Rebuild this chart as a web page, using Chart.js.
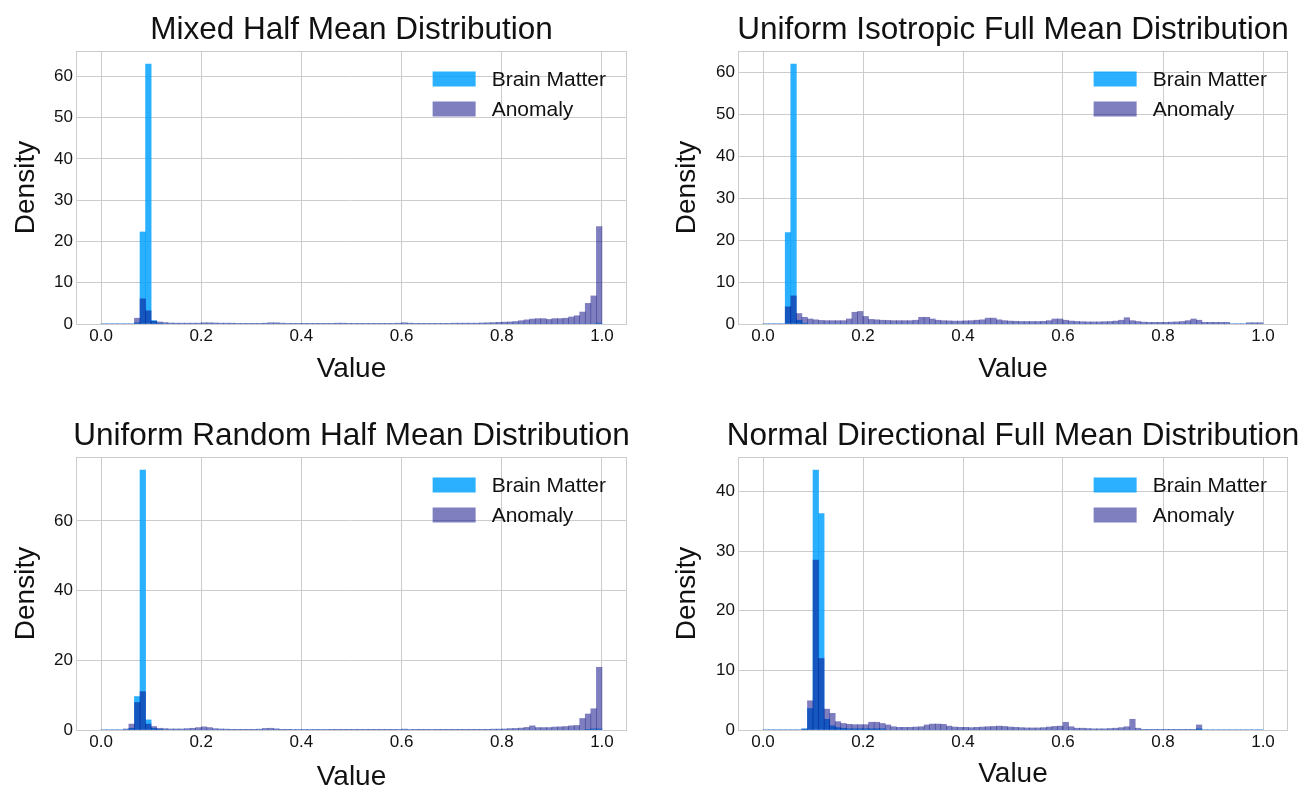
<!DOCTYPE html>
<html>
<head>
<meta charset="utf-8">
<script src="https://cdn.jsdelivr.net/npm/chart.js@4.4.1/dist/chart.umd.min.js"></script>
<style>
	html, body { margin: 0; padding: 0; background: #fff; overflow: hidden; }
	.panel { position: absolute; }
</style>
</head>
<body>
<div class="panel" style="left:0;top:0;"><canvas id="mixedChart" width="651" height="393"></canvas></div>
<div class="panel" style="left:651px;top:0;"><canvas id="isoChart" width="651" height="393"></canvas></div>
<div class="panel" style="left:0;top:393px;"><canvas id="randChart" width="651" height="400"></canvas></div>
<div class="panel" style="left:651px;top:393px;"><canvas id="normChart" width="651" height="400"></canvas></div>
<script>
// 90 equal bins on [0, 1]
const binCount = 90;
const binCenters = [];
for (let k = 0; k < binCount; k++) binCenters.push((k + 0.5) / binCount);

const xTicks = [0.0, 0.2, 0.4, 0.6, 0.8, 1.0];

// ---------- Mixed Half Mean ----------
const mixedBrain = [
	0, 0, 0, 0, 0, 0, 0.3, 22.3, 63.0, 0.8,
	0.1, 0, 0, 0, 0, 0, 0, 0, 0, 0,
	0, 0, 0, 0, 0, 0, 0, 0, 0, 0,
	0, 0, 0, 0, 0, 0, 0, 0, 0, 0,
	0, 0, 0, 0, 0, 0, 0, 0, 0, 0,
	0, 0, 0, 0, 0, 0, 0, 0, 0, 0,
	0, 0, 0, 0, 0, 0, 0, 0, 0, 0,
	0, 0, 0, 0, 0, 0, 0, 0, 0, 0,
	0, 0, 0, 0, 0, 0, 0, 0, 0, 0.2
];
const mixedAnomaly = [
	0, 0, 0, 0, 0, 0, 1.4, 6.1, 3.2, 0.7,
	0.5, 0.35, 0.25, 0.2, 0.2, 0.2, 0.2, 0.2, 0.3, 0.3,
	0.25, 0.2, 0.2, 0.2, 0.15, 0.15, 0.15, 0.15, 0.15, 0.2,
	0.3, 0.3, 0.2, 0.15, 0.15, 0.15, 0.15, 0.1, 0.15, 0.15,
	0.15, 0.15, 0.2, 0.2, 0.15, 0.15, 0.15, 0.15, 0.15, 0.15,
	0.15, 0.15, 0.15, 0.2, 0.3, 0.2, 0.15, 0.15, 0.15, 0.15,
	0.15, 0.15, 0.15, 0.2, 0.2, 0.2, 0.2, 0.2, 0.25, 0.3,
	0.35, 0.4, 0.45, 0.5, 0.6, 0.8, 1.0, 1.2, 1.3, 1.3,
	1.1, 1.3, 1.3, 1.4, 1.7, 2.0, 2.9, 5.0, 6.8, 23.6
];
const mixedYTicks = [0, 10, 20, 30, 40, 50, 60];

// ---------- Uniform Isotropic Full Mean ----------
const isoBrain = [
	0, 0, 0, 0, 21.8, 62.0, 0.9, 0.2, 0, 0,
	0, 0, 0, 0, 0, 0, 0, 0, 0, 0,
	0, 0, 0, 0, 0, 0, 0, 0, 0, 0,
	0, 0, 0, 0, 0, 0, 0, 0, 0, 0,
	0, 0, 0, 0, 0, 0, 0, 0, 0, 0,
	0, 0, 0, 0, 0, 0, 0, 0, 0, 0,
	0, 0, 0, 0, 0, 0, 0, 0, 0, 0,
	0, 0, 0, 0, 0, 0, 0, 0, 0, 0,
	0, 0, 0, 0, 0, 0, 0, 0, 0, 0
];
const isoAnomaly = [
	0, 0, 0, 0, 4.1, 6.7, 2.5, 1.6, 1.2, 1.0,
	0.85, 0.8, 0.8, 0.8, 0.8, 1.2, 2.8, 3.0, 1.8, 1.1,
	1.0, 0.9, 0.85, 0.8, 0.8, 0.8, 0.8, 0.9, 1.6, 1.6,
	1.2, 0.9, 0.8, 0.75, 0.7, 0.7, 0.75, 0.8, 0.9, 1.0,
	1.4, 1.4, 1.0, 0.8, 0.7, 0.65, 0.6, 0.6, 0.6, 0.6,
	0.65, 0.8, 1.2, 1.2, 0.9, 0.7, 0.6, 0.55, 0.5, 0.5,
	0.5, 0.55, 0.6, 0.7, 0.9, 1.5, 0.8, 0.6, 0.45, 0.4,
	0.4, 0.4, 0.4, 0.45, 0.5, 0.6, 0.8, 1.2, 0.9, 0.4,
	0.4, 0.4, 0.4, 0.4, 0, 0, 0, 0.3, 0.3, 0.3
];
const isoYTicks = [0, 10, 20, 30, 40, 50, 60];

// ---------- Uniform Random Half Mean ----------
const randBrain = [
	0, 0, 0, 0, 0, 0.5, 9.6, 74.6, 2.9, 0.5,
	0.2, 0, 0, 0, 0, 0, 0, 0, 0, 0,
	0, 0, 0, 0, 0, 0, 0, 0, 0, 0,
	0, 0, 0, 0, 0, 0, 0, 0, 0, 0,
	0, 0, 0, 0, 0, 0, 0, 0, 0, 0,
	0, 0, 0, 0, 0, 0, 0, 0, 0, 0,
	0, 0, 0, 0, 0, 0, 0, 0, 0, 0,
	0, 0, 0, 0, 0, 0, 0, 0, 0, 0,
	0, 0, 0, 0, 0, 0, 0, 0.2, 0.3, 0.3
];
const randAnomaly = [
	0, 0, 0, 0, 0.3, 1.7, 7.9, 11.0, 1.7, 1.0,
	0.5, 0.4, 0.3, 0.3, 0.3, 0.4, 0.5, 0.7, 0.9, 0.7,
	0.4, 0.3, 0.25, 0.2, 0.2, 0.2, 0.2, 0.2, 0.25, 0.45,
	0.5, 0.35, 0.2, 0.2, 0.15, 0.15, 0.15, 0.15, 0.15, 0.15,
	0.15, 0.1, 0.1, 0.1, 0.1, 0.1, 0.1, 0.1, 0.1, 0.1,
	0.1, 0.1, 0.1, 0.15, 0.25, 0.15, 0.1, 0.1, 0.1, 0.15,
	0.2, 0.2, 0.2, 0.2, 0.2, 0.2, 0.2, 0.2, 0.2, 0.2,
	0.25, 0.25, 0.3, 0.4, 0.45, 0.55, 0.75, 1.2, 0.7, 0.7,
	0.7, 0.85, 0.9, 1.0, 1.2, 1.3, 3.3, 4.6, 6.1, 18.0
];
const randYTicks = [0, 20, 40, 60];

// ---------- Normal Directional Full Mean ----------
const normBrain = [
	0, 0, 0, 0, 0, 0, 0, 0.2, 3.6, 43.6,
	36.3, 1.8, 0.7, 0.4, 0.3, 0.2, 0.2, 0.2, 0.2, 0.2,
	0.2, 0.2, 0, 0, 0, 0, 0, 0, 0, 0,
	0, 0, 0, 0, 0, 0, 0, 0, 0, 0,
	0, 0, 0, 0, 0, 0, 0, 0, 0, 0,
	0, 0, 0, 0, 0, 0, 0, 0, 0, 0,
	0, 0, 0, 0, 0, 0, 0, 0, 0, 0,
	0, 0, 0, 0, 0, 0, 0, 0, 0.2, 0,
	0, 0, 0, 0, 0, 0, 0, 0, 0, 0
];
const normAnomaly = [
	0, 0, 0, 0, 0, 0, 0, 0.15, 4.9, 28.5,
	12.0, 3.5, 2.8, 1.4, 1.1, 0.95, 0.9, 0.9, 0.9, 1.3,
	1.3, 1.1, 0.85, 0.55, 0.45, 0.45, 0.45, 0.5, 0.55, 0.85,
	1.0, 1.0, 0.95, 0.65, 0.5, 0.45, 0.45, 0.4, 0.45, 0.5,
	0.55, 0.6, 0.65, 0.6, 0.5, 0.45, 0.4, 0.35, 0.35, 0.35,
	0.4, 0.5, 0.6, 0.65, 1.3, 0.55, 0.3, 0.3, 0.25, 0.2,
	0.2, 0.2, 0.25, 0.3, 0.4, 0.55, 1.8, 0.3, 0.1, 0.1,
	0.1, 0.1, 0.1, 0.1, 0.1, 0.1, 0.1, 0.1, 0.85, 0,
	0, 0, 0, 0, 0, 0, 0, 0, 0, 0
];
const normYTicks = [0, 10, 20, 30, 40];

const seriesLabels = ['Brain Matter', 'Anomaly'];

const brainColor = 'rgba(0, 160, 255, 0.83)';
const anomalyColor = 'rgba(0, 0, 128, 0.5)';
const gridColor = '#cccccc';
const fontFamily = '"Liberation Sans", Arial, sans-serif';

Chart.defaults.font.family = fontFamily;
Chart.defaults.color = '#111';

// light grey box around the plot area (like matplotlib spines)
const framePlugin = {
	id: 'frame',
	afterDatasetsDraw(chart) {
		const a = chart.chartArea;
		const ctx = chart.ctx;
		ctx.save();
		ctx.strokeStyle = gridColor;
		ctx.lineWidth = 1;
		ctx.strokeRect(Math.round(a.left) + 0.5, Math.round(a.top) + 0.5,
			Math.round(a.right - a.left) - 1, Math.round(a.bottom - a.top));
		ctx.restore();
	}
};

// title centred over the plot area, not squeezed to its width
const axesTitle = {
	id: 'axesTitle',
	afterDraw(chart, args, opts) {
		const a = chart.chartArea;
		const ctx = chart.ctx;
		ctx.save();
		ctx.font = '31.5px ' + fontFamily;
		ctx.fillStyle = '#111';
		ctx.textAlign = 'center';
		ctx.textBaseline = 'middle';
		ctx.fillText(opts.text, (a.left + a.right) / 2, opts.y);
		ctx.restore();
	}
};

// legend drawn inside the plot, upper right, no frame
const insideLegend = {
	id: 'insideLegend',
	afterDraw(chart) {
		const a = chart.chartArea;
		const ctx = chart.ctx;
		ctx.save();
		ctx.font = '21px ' + fontFamily;
		const sets = chart.data.datasets;
		let textW = 0;
		sets.forEach(function (d) { textW = Math.max(textW, ctx.measureText(d.label).width); });
		const textX = a.right - 21 - textW;
		sets.forEach(function (d, i) {
			const cy = a.top + 29 + i * 30;
			ctx.fillStyle = d.backgroundColor;
			ctx.fillRect(textX - 16 - 43, cy - 8.5, 43, 15);
			ctx.fillStyle = '#111';
			ctx.textBaseline = 'middle';
			ctx.textAlign = 'left';
			ctx.fillText(d.label, textX, cy);
		});
		ctx.restore();
	}
};

function toPoints(values) {
	return values.map(function (v, k) { return { x: binCenters[k], y: v }; });
}

function makeHist(id, o) {
	const yMax = Math.max(Math.max.apply(null, o.brain), Math.max.apply(null, o.anomaly)) * 1.05;
	return new Chart(document.getElementById(id), {
		type: 'bar',
		data: {
			datasets: [{
				label: seriesLabels[0],
				data: toPoints(o.brain),
				backgroundColor: brainColor,
				borderWidth: 0,
				grouped: false,
				barPercentage: 1,
				categoryPercentage: 1,
				order: 1 // drawn first, underneath
			}, {
				label: seriesLabels[1],
				data: toPoints(o.anomaly),
				backgroundColor: anomalyColor,
				borderWidth: 0,
				grouped: false,
				barPercentage: 1,
				categoryPercentage: 1,
				order: 0
			}]
		},
		options: {
			responsive: false,
			animation: false,
			devicePixelRatio: 1,
			layout: {
				padding: { left: 0, right: o.padRight, top: o.plotTop, bottom: 0 }
			},
			scales: {
				x: {
					type: 'linear',
					min: -0.05,
					max: 1.05,
					offset: false,
					afterFit: function (s) { s.height = o.xHeight; },
					afterBuildTicks: function (s) { s.ticks = xTicks.map(function (v) { return { value: v }; }); },
					border: { display: false },
					grid: { color: gridColor, offset: false, drawTicks: false },
					ticks: {
						font: { size: 17 },
						color: '#111',
						padding: 2,
						maxRotation: 0,
						autoSkip: false,
						callback: function (v) { return v.toFixed(1); }
					},
					title: {
						display: true,
						text: 'Value',
						font: { size: 28, lineHeight: 1.0 },
						color: '#111',
						padding: { top: 0, bottom: o.xTitlePad }
					}
				},
				y: {
					min: 0,
					max: yMax,
					afterFit: function (s) { s.width = o.yWidth; },
					afterBuildTicks: function (s) { s.ticks = o.yTicks.map(function (v) { return { value: v }; }); },
					border: { display: false },
					grid: { color: gridColor, drawTicks: false },
					ticks: {
						font: { size: 17 },
						color: '#111',
						padding: 3
					},
					title: {
						display: true,
						text: 'Density',
						font: { size: 28 },
						color: '#111',
						padding: { top: o.yTitlePad, bottom: 0 }
					}
				}
			},
			plugins: {
				legend: { display: false },
				tooltip: { enabled: false },
				title: { display: false },
				axesTitle: { text: o.title, y: o.titleY }
			}
		},
		plugins: [framePlugin, axesTitle, insideLegend]
	});
}

makeHist('mixedChart', {
	title: 'Mixed Half Mean Distribution',
	brain: mixedBrain, anomaly: mixedAnomaly, yTicks: mixedYTicks,
	yWidth: 76, padRight: 24, xHeight: 69, plotTop: 51,
	titleY: 29.9, xTitlePad: 9.8, yTitlePad: 9
});
makeHist('isoChart', {
	title: 'Uniform Isotropic Full Mean Distribution',
	brain: isoBrain, anomaly: isoAnomaly, yTicks: isoYTicks,
	yWidth: 87, padRight: 14, xHeight: 69, plotTop: 51,
	titleY: 29.9, xTitlePad: 9.8, yTitlePad: 19
});
makeHist('randChart', {
	title: 'Uniform Random Half Mean Distribution',
	brain: randBrain, anomaly: randAnomaly, yTicks: randYTicks,
	yWidth: 76, padRight: 24, xHeight: 63, plotTop: 64,
	titleY: 42.9, xTitlePad: 1.8, yTitlePad: 9
});
makeHist('normChart', {
	title: 'Normal Directional Full Mean Distribution',
	brain: normBrain, anomaly: normAnomaly, yTicks: normYTicks,
	yWidth: 87, padRight: 14, xHeight: 63, plotTop: 64,
	titleY: 42.9, xTitlePad: 4.8, yTitlePad: 19
});
</script>
</body>
</html>
